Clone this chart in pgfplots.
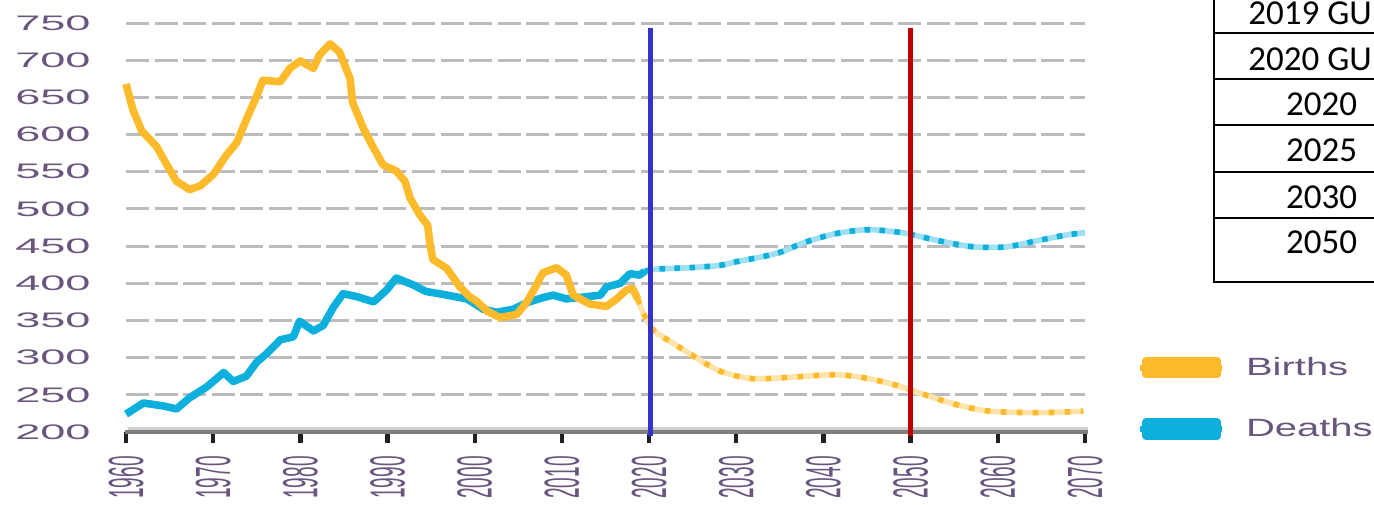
\documentclass[border=0pt]{standalone}
\usepackage{pgfplots}
\pgfplotsset{compat=1.18}
\usepackage{pgfplotstable}
\usepackage{graphicx}
\usepackage{fontspec}
\setmainfont{Liberation Sans}
\newfontfamily\carlito{Carlito}

\definecolor{births}{RGB}{253,187,44}
\definecolor{deaths}{RGB}{13,176,220}
\definecolor{lbl}{RGB}{105,85,125}
\definecolor{gridc}{RGB}{187,187,192}
\definecolor{vblue}{RGB}{51,51,204}
\definecolor{vred}{RGB}{192,0,0}
\definecolor{axgray}{RGB}{125,125,125}
\definecolor{axlight}{RGB}{208,208,208}
\definecolor{tickc}{RGB}{35,31,32}

\newcommand{\yl}[1]{\scalebox{2.15}[1]{#1}}
\newcommand{\lgl}[1]{\scalebox{1.6}[1]{#1}}

\pgfplotstableread{
year value
1960 668
1960.8 633
1961.8 605
1963.5 584
1964.7 559
1965.8 537
1967.3 526
1968.5 531
1970 546
1971.5 572
1972.7 589
1973.8 620
1975 652
1975.7 673
1977.7 671
1978.8 689
1980 699
1981.5 689
1982.2 707
1983.4 722
1984.5 711
1985.7 675
1986 643
1987.2 609
1988.3 584
1989.5 559
1991 551
1992 537
1992.6 514
1993.7 492
1994.6 478
1994.9 450
1995.2 432
1996.8 420
1998.3 395
1999.4 382
2000.2 376
2001.5 362
2002.9 354
2004.8 358
2006 375
2007.1 398
2007.8 414
2009.4 421
2010.5 411
2011.3 384
2013.2 372
2015.1 369
2016.3 379
2017.4 391
2018.1 393
2018.7 379
}\birthsHist

\pgfplotstableread{
year value
2018.7 379
2019.3 361
2020.5 337
2022.8 319
2025.4 300
2028.1 282
2031.6 272
2035.4 273
2041.1 277
2044.6 273
2048 264
2051.4 251
2055.2 237
2059.1 228
2064.8 226
2069.8 228
}\birthsProj

\pgfplotstableread{
year value
1960 224
1962 239
1964.3 235
1965.8 231
1967.3 246
1969.3 261
1971.2 280
1972.3 268
1973.8 275
1975 294
1976.1 305
1977.7 324
1979.2 328
1979.9 349
1981.5 336
1982.6 343
1983.8 368
1984.9 386
1986.5 382
1988.4 375
1989.9 391
1991 407
1992.9 398
1994.4 389
1996.4 385
1999.1 379
2001 365
2002.5 361
2004.4 365
2006 374
2007.9 381
2009 384
2010.5 379
2012.1 381
2014.4 384
2015.1 395
2016.7 400
2017.8 413
2018.9 411
2019.5 416
}\deathsHist

\pgfplotstableread{
year value
2019.5 416
2020.8 419
2024.7 421
2028.1 424
2030 429
2033.1 436
2035.4 443
2037.6 454
2041.1 466
2044.9 472
2048.4 469
2050.3 465
2053.3 457
2057.2 449
2061 449
2064.4 457
2067.9 465
2070 468
}\deathsProj

\begin{document}
\begin{tikzpicture}
\useasboundingbox (0,0) rectangle (687pt,252pt);
\begin{axis}[
  at={(63pt,36pt)}, anchor=south west,
  scale only axis, width=479.5pt, height=204.5pt,
  xmin=1960, xmax=2070, ymin=200, ymax=750,
  clip=false,
  axis x line*=bottom, axis y line*=left,
  y axis line style={draw=none},
  x axis line style={draw=axgray, line width=2pt, shorten >=-1.5pt, shorten <=-0.5pt},
  xtick={1960,1970,...,2070},
  xticklabels={1960,1970,1980,1990,2000,2010,2020,2030,2040,2050,2060,2070},
  ytick={200,250,...,750},
  yticklabels={\yl{200},\yl{250},\yl{300},\yl{350},\yl{400},\yl{450},\yl{500},\yl{550},\yl{600},\yl{650},\yl{700},\yl{750}},
  tick align=outside,
  major tick length=5.5pt,
  xtick style={draw=tickc, line width=2.2pt},
  ytick style={draw=none},
  ymajorgrids,
  grid style={draw=gridc, line width=1.5pt, dash pattern=on 11.5pt off 2.8pt},
  xticklabel style={yshift=-6.5pt, rotate=90, yscale=2.6, anchor=east, font=\fontsize{9.5}{11}\selectfont, text=lbl, inner sep=0pt},
  yticklabel style={anchor=east, font=\fontsize{10.5}{12}\selectfont, text=lbl, inner sep=0pt, xshift=-12pt},
  legend style={at={(1.054,0.082)}, anchor=west, draw=none, fill=none, inner sep=0pt,
    font=\fontsize{12.5}{14}\selectfont, text=lbl, row sep=20pt,
    nodes={inner sep=0pt}},
  legend cell align=left,
  reverse legend,
  legend image code/.code={
    \draw[line width=3pt] (0pt,0pt) -- (41pt,0pt);
    \fill (3pt,-3.5pt) rectangle (38.5pt,3.5pt);
    \path (51pt,0pt);
  },
]
\draw[axlight, line width=1.4pt] ([yshift=1.8pt]axis cs:1960.2,200) -- ([yshift=1.8pt]axis cs:2070.3,200);

\addplot[deaths!40, line width=2.8pt, smooth, forget plot] table[x=year,y=value] {\deathsProj};
\addplot[deaths, line width=2.8pt, smooth, dash pattern=on 2.8pt off 4.7pt, forget plot] table[x=year,y=value] {\deathsProj};
\addplot[births!40, line width=2.8pt, smooth, forget plot] table[x=year,y=value] {\birthsProj};
\addplot[births, line width=2.8pt, smooth, dash pattern=on 2.8pt off 5.2pt, forget plot] table[x=year,y=value] {\birthsProj};

\addplot[color=deaths, line width=3.8pt, line join=round] table[x=year,y=value] {\deathsHist};
\addplot[color=births, line width=3.8pt, line join=round] table[x=year,y=value] {\birthsHist};

\addplot[vblue, line width=2.6pt, forget plot] coordinates {(2020.2,743.6) (2020.2,195)};
\addplot[vred, line width=2.6pt, forget plot] coordinates {(2050,743.6) (2050,195)};

\legend{\lgl{Deaths},\lgl{Births}}
\end{axis}

\begin{scope}
\clip (0,0) rectangle (687pt,252pt);
\draw[line width=1.3pt] (607pt,111pt) -- (607pt,260pt);
\foreach \yy in {235.5,212.5,189.5,166,143,111}
  \draw[line width=1.3pt] (606.35pt,\yy pt) -- (700pt,\yy pt);
\begin{scope}[every node/.style={inner sep=0pt, font=\carlito\fontsize{17.5}{20}\selectfont}]
\node[anchor=base west] at (624pt,239.5pt) {2019 GU};
\node[anchor=base west] at (624pt,216.7pt) {2020 GU};
\node[anchor=base] at (660.8pt,194pt) {2020};
\node[anchor=base] at (660.8pt,171.2pt) {2025};
\node[anchor=base] at (660.8pt,148pt) {2030};
\node[anchor=base] at (660.8pt,125.5pt) {2050};
\end{scope}
\end{scope}
\end{tikzpicture}
\end{document}
